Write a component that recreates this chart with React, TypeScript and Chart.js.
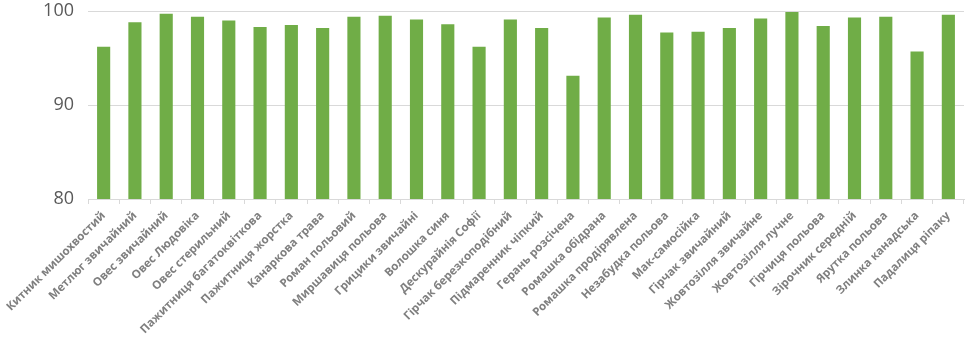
import React, { useEffect, useRef } from "react";
import { Chart, registerables } from "chart.js";

Chart.register(...registerables);

const categories: string[] = [
  "Китник мишохвостий",
  "Метлюг звичайний",
  "Овес звичайний",
  "Овес Людовіка",
  "Овес стерильний",
  "Пажитниця багатоквіткова",
  "Пажитниця жорстка",
  "Канаркова трава",
  "Роман польовий",
  "Миршавиця польова",
  "Грицики звичайні",
  "Волошка синя",
  "Дескурайнія Софії",
  "Гірчак березкоподібний",
  "Підмаренник чіпкий",
  "Герань розсічена",
  "Ромашка обідрана",
  "Ромашка продірявлена",
  "Незабудка польова",
  "Мак-самосійка",
  "Гірчак звичайний",
  "Жовтозілля звичайне",
  "Жовтозілля лучне",
  "Гірчиця польова",
  "Зірочник середній",
  "Ярутка польова",
  "Злинка канадська",
  "Падалиця ріпаку",
];

const values: number[] = [
  96.2, 98.8, 99.7, 99.4, 99.0, 98.3, 98.5, 98.2, 99.4, 99.5, 99.1, 98.6, 96.2, 99.1,
  98.2, 93.1, 99.3, 99.6, 97.7, 97.8, 98.2, 99.2, 99.9, 98.4, 99.3, 99.4, 95.7, 99.6,
];

const yMin = 80;
const yMax = 100;
const yStep = 10;

export default function App() {
  const ref = useRef<HTMLCanvasElement | null>(null);
  useEffect(() => {
    document.body.style.margin = "0";
    if (!ref.current) return;
    const chart = new Chart(ref.current, {
      type: "bar",
      data: {
        labels: categories,
        datasets: [
          {
            data: values,
            backgroundColor: "#70ad47",
            borderWidth: 0,
            barPercentage: 0.42,
            categoryPercentage: 1,
          },
        ],
      },
      options: {
        animation: false,
        responsive: false,
        maintainAspectRatio: false,
        layout: { padding: { left: 0, right: 4, top: 11, bottom: 0 } },
        plugins: { legend: { display: false }, tooltip: { enabled: false } },
        scales: {
          x: {
            grid: {
              drawOnChartArea: false,
              drawTicks: true,
              tickLength: 5,
              offset: true,
              color: "#d9d9d9",
            },
            border: { color: "#d9d9d9" },
            ticks: {
              autoSkip: false,
              maxRotation: 45,
              minRotation: 45,
              color: "#7f7f7f",
              padding: 5,
              font: { family: "Open Sans", size: 11.5, weight: "bold" },
            },
            afterFit: (s: any) => {
              s.height = 152;
              s.paddingTop = 0;
              s.paddingRight = 0;
              s.paddingLeft = 0;
            },
          },
          y: {
            min: yMin,
            max: yMax,
            ticks: {
              stepSize: yStep,
              color: "#595959",
              padding: 14,
              font: { family: "Open Sans", size: 18 },
            },
            grid: { color: "#d9d9d9", drawTicks: false },
            border: { display: false },
            afterFit: (s: any) => {
              s.width = 88;
              s.paddingTop = 0;
              s.paddingBottom = 0;
            },
          },
        },
      },
    });
    return () => chart.destroy();
  }, []);
  return (
    <div style={{ width: 968, height: 351 }}>
      <canvas ref={ref} width={968} height={351} />
    </div>
  );
}
